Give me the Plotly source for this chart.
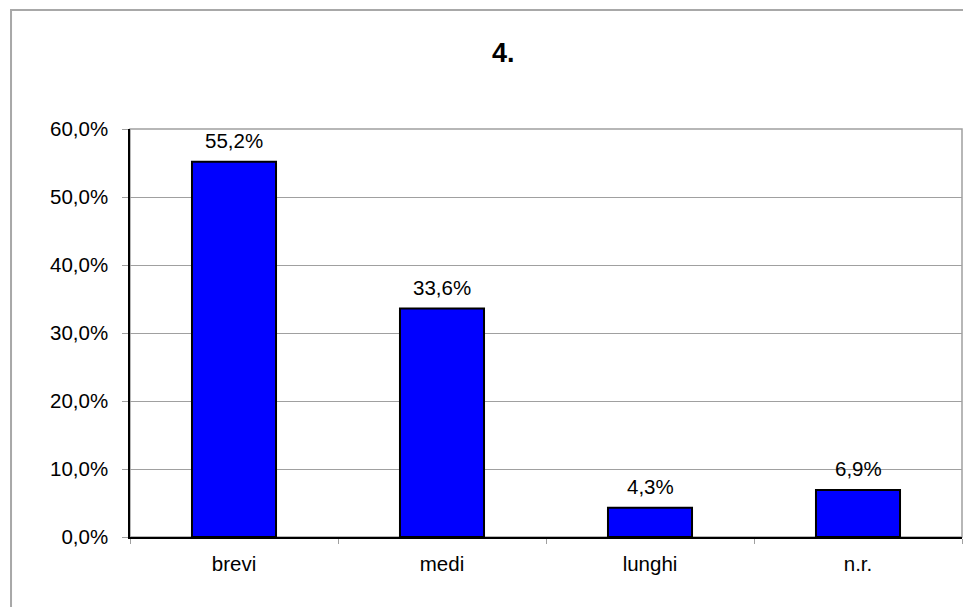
import plotly.graph_objects as go

categories = ["brevi", "medi", "lunghi", "n.r."]
values = [55.2, 33.6, 4.3, 6.9]
y_ticks = [0, 10, 20, 30, 40, 50, 60]
y_tick_labels = ["0,0%", "10,0%", "20,0%", "30,0%", "40,0%", "50,0%", "60,0%"]
value_labels = ["55,2%", "33,6%", "4,3%", "6,9%"]
title_text = "4."

FONT = "Liberation Sans, Arial, sans-serif"

# page body has an 8px default margin; figure is sized/offset to compensate
fig = go.Figure()
fig.add_trace(go.Bar(
    x=categories, y=values,
    marker=dict(color="#0000ff", line=dict(color="#000000", width=2)),
    width=0.404,
    hoverinfo="skip",
))

annotations = []
for c, v, t in zip(categories, values, value_labels):
    annotations.append(dict(
        x=c, y=v, xref="x", yref="y", text=t, showarrow=False,
        yanchor="bottom", yshift=8,
        font=dict(family=FONT, size=20.5, color="#000000"),
    ))
annotations.append(dict(
    x=0.4495, y=1.186, xref="paper", yref="paper", text="<b>%s</b>" % title_text,
    showarrow=False, xanchor="center", yanchor="middle",
    font=dict(family=FONT, size=27, color="#000000"),
))

shapes = [
    # outer chart frame
    dict(type="rect", xref="paper", yref="paper",
         x0=-0.143, x1=1.06, y0=-0.25, y1=1.2917,
         line=dict(color="#a8a8a8", width=2), layer="below"),
    # plot area frame
    dict(type="rect", xref="paper", yref="paper",
         x0=0, x1=1, y0=0, y1=1,
         line=dict(color="#a0a0a0", width=1.5), layer="below"),
]

fig.update_layout(
    width=963, height=599,
    margin=dict(l=122, r=9, t=121, b=70),
    paper_bgcolor="white", plot_bgcolor="white",
    showlegend=False,
    annotations=annotations,
    shapes=shapes,
    font=dict(family=FONT, size=20.5, color="#000000"),
)
fig.update_xaxes(
    type="category", tickson="boundaries",
    showline=True, linecolor="#000000", linewidth=1.5,
    ticks="outside", ticklen=5, tickcolor="#a0a0a0",
    showgrid=False, ticklabelstandoff=8,
    tickfont=dict(family=FONT, size=20.5, color="#000000"),
    range=[-0.5, 3.5],
)
fig.update_yaxes(
    range=[0, 60], tickvals=y_ticks, ticktext=y_tick_labels,
    showline=True, linecolor="#000000", linewidth=1.5,
    ticks="outside", ticklen=6, tickcolor="#a0a0a0",
    showgrid=True, gridcolor="#a0a0a0", gridwidth=1,
    zeroline=False, ticklabelstandoff=10,
    tickfont=dict(family=FONT, size=20.5, color="#000000"),
)

fig.write_html("out.html")
